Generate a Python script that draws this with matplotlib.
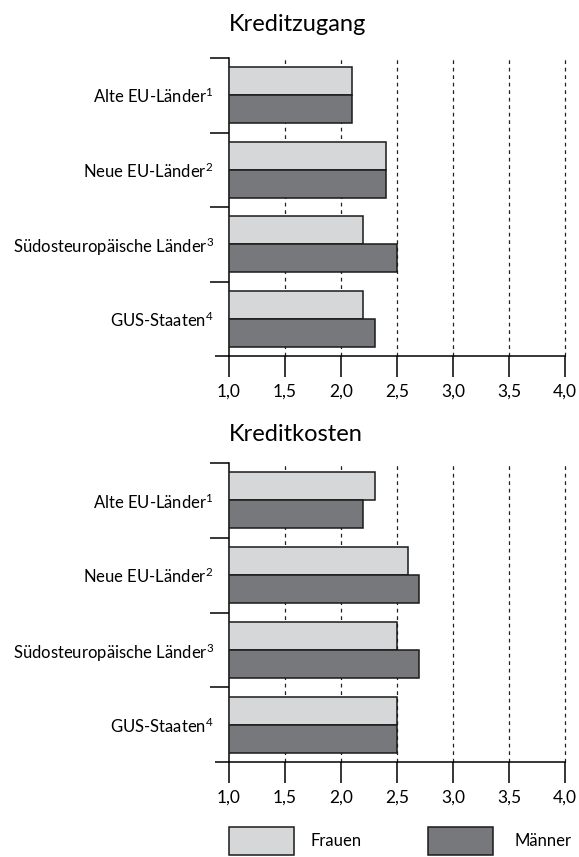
import matplotlib
matplotlib.use("Agg")
import matplotlib.pyplot as plt
from matplotlib.patches import Rectangle
import numpy as np

plt.rcParams['font.family'] = ['Lato', 'DejaVu Sans']

categories = ["Alte EU-Länder$^{1}$", "Neue EU-Länder$^{2}$", "Südosteuropäische Länder$^{3}$", "GUS-Staaten$^{4}$"]
series_names = ["Frauen", "Männer"]
zugang_frauen = [2.1, 2.4, 2.2, 2.2]
zugang_maenner = [2.1, 2.4, 2.5, 2.3]
kosten_frauen = [2.3, 2.6, 2.5, 2.5]
kosten_maenner = [2.2, 2.7, 2.7, 2.5]
panel_titles = ["Kreditzugang", "Kreditkosten"]
xticks = [1.0, 1.5, 2.0, 2.5, 3.0, 3.5, 4.0]
xticklabels = ["1,0", "1,5", "2,0", "2,5", "3,0", "3,5", "4,0"]

plt.rcParams['mathtext.fontset'] = 'custom'
plt.rcParams['mathtext.rm'] = 'Lato'
plt.rcParams['mathtext.it'] = 'Lato'
plt.rcParams['mathtext.default'] = 'rm'

c_f = "#d6d7d9"
c_m = "#77787c"
edge = "#1a1a1a"

W, H = 579, 857
fig = plt.figure(figsize=(W / 100, H / 100), dpi=100)

def fx(px):
    return px / W

def fy(py):
    return 1 - py / H

panels = [
    (58, 356, zugang_frauen, zugang_maenner, panel_titles[0], 31),
    (463, 762, kosten_frauen, kosten_maenner, panel_titles[1], 441),
]

x0, x1 = 229, 565
for top, bot, vf, vm, title, ty in panels:
    ax = fig.add_axes([fx(x0), fy(bot), fx(x1 - x0), (bot - top) / H])
    n = len(categories)
    ax.set_xlim(1.0, 4.0)
    ax.set_ylim(n, 0)
    h = 0.375
    centers = np.arange(n) + 0.5
    ax.barh(centers - h / 2, np.array(vf) - 1.0, left=1.0, height=h,
            color=c_f, edgecolor=edge, linewidth=1.1, zorder=3)
    ax.barh(centers + h / 2, np.array(vm) - 1.0, left=1.0, height=h,
            color=c_m, edgecolor=edge, linewidth=1.1, zorder=3)
    for xv in xticks[1:]:
        ax.axvline(xv, color="#222222", linestyle=(0, (3, 3)), linewidth=0.9,
                   zorder=1, clip_on=False)
    for s in ["top", "right"]:
        ax.spines[s].set_visible(False)
    ax.spines["left"].set_linewidth(1.1)
    ax.spines["bottom"].set_linewidth(1.1)
    # extend x-axis line slightly to the left
    ax.plot([-14 / (x1 - x0), 0], [0, 0], transform=ax.transAxes, color="black",
            lw=1.1, clip_on=False, solid_capstyle="butt")
    ax.set_yticks(np.arange(n + 1)[:-1])
    ax.set_yticks(centers, minor=True)
    ax.set_yticklabels([""] * n)
    ax.set_yticklabels(categories, minor=True, fontsize=12)
    ax.tick_params(axis="y", which="major", length=14, width=1.1, direction="out")
    ax.tick_params(axis="y", which="minor", length=0, pad=11)
    ax.set_xticks(xticks)
    ax.set_xticklabels(xticklabels, fontsize=12.5)
    ax.tick_params(axis="x", length=15, width=1.1, direction="out", pad=5)
    fig.text(fx(229), fy(ty), title, fontsize=17, ha="left", va="baseline")

# legend
for (bx, tx, col, name) in [(229, 310, c_f, series_names[0]), (428, 515, c_m, series_names[1])]:
    fig.add_artist(Rectangle((fx(bx), fy(855)), fx(65), 28 / H, transform=fig.transFigure,
                             facecolor=col, edgecolor=edge, linewidth=1.1))
    fig.text(fx(tx), fy(841), name, fontsize=12, ha="left", va="center")

fig.savefig("out.png", dpi=100)
